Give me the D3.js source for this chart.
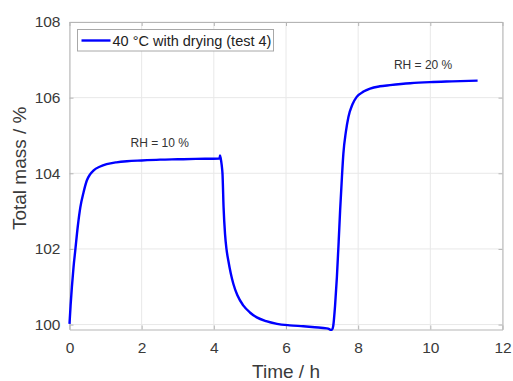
<!DOCTYPE html>
<html>
<head>
<meta charset="utf-8">
<script src="https://cdn.jsdelivr.net/npm/d3@7"></script>
<style>
  body { margin: 0; background: #fff; }
  svg { font-family: "Liberation Sans", Arial, sans-serif; }
</style>
</head>
<body>
<div id="chart"></div>
<script>
// Data (time in h, mass in %)
var timeH = [0, 0.03, 0.066, 0.11, 0.16, 0.23, 0.30, 0.39, 0.48, 0.57, 0.67, 0.85, 1.03, 1.3, 1.59, 2.0, 2.51, 3.0, 3.5, 4.16,
             4.17, 4.19, 4.22, 4.24, 4.27, 4.31, 4.35, 4.40, 4.47, 4.54, 4.65, 4.82, 5.0, 5.19, 5.45, 5.75, 6.1, 6.48, 6.8, 7.13,
             7.2, 7.24, 7.28, 7.31, 7.36, 7.41, 7.46, 7.50, 7.55, 7.59, 7.66, 7.73, 7.84, 7.96, 8.15, 8.33, 8.6, 8.88,
             9.44, 9.99, 10.6, 11.31];
var massPct = [100.02, 100.5, 100.99, 101.5, 101.96, 102.6, 103.1, 103.5, 103.81, 103.97, 104.08, 104.18, 104.24, 104.29, 104.32, 104.34, 104.36, 104.37, 104.38, 104.39,
               104.47, 104.4, 104.2, 103.99, 103.1, 102.4, 102.0, 101.7, 101.35, 101.08, 100.78, 100.5, 100.32, 100.19, 100.09, 100.02, 99.98, 99.955, 99.93, 99.9,
               99.88, 99.86, 99.87, 99.97, 100.5, 101.25, 102.2, 103.02, 103.9, 104.52, 105.1, 105.49, 105.82, 106.02, 106.16, 106.24, 106.3, 106.33,
               106.38, 106.41, 106.43, 106.45];

var xTicks = [0, 2, 4, 6, 8, 10, 12];
var yTicks = [100, 102, 104, 106, 108];

var annotations = [
  {label: "RH = 10 %", t: 2.5, m: 104.7},
  {label: "RH = 20 %", t: 9.8, m: 106.75}
];
var seriesName = "40 °C with drying (test 4)";

// Chart dimensions
var margin = {top: 22, right: 10.5, bottom: 51.5, left: 69.5},
    width = 513 - margin.left - margin.right,
    height = 381 - margin.top - margin.bottom;

var x = d3.scaleLinear().domain([0, 12]).range([0, width]);
var y = d3.scaleLinear().domain([99.87, 108]).range([height, 0]);

var svg = d3.select("#chart")
  .append("svg")
  .attr("width", width + margin.left + margin.right)
  .attr("height", height + margin.top + margin.bottom)
  .append("g")
  .attr("transform", "translate(" + margin.left + "," + margin.top + ")");

// Grid lines
svg.append("g").selectAll("line")
  .data(xTicks)
  .enter().append("line")
  .attr("x1", function(d) { return x(d); })
  .attr("x2", function(d) { return x(d); })
  .attr("y1", 0).attr("y2", height)
  .attr("stroke", "#e8e8e8");

svg.append("g").selectAll("line")
  .data(yTicks)
  .enter().append("line")
  .attr("x1", 0).attr("x2", width)
  .attr("y1", function(d) { return y(d); })
  .attr("y2", function(d) { return y(d); })
  .attr("stroke", "#e8e8e8");

// Axes with inward ticks
function styleAxis(g) {
  g.select(".domain").attr("stroke", "#b5b5b5");
  g.selectAll(".tick line").attr("stroke", "#b5b5b5");
  g.selectAll(".tick text").attr("fill", "#3a3a3a").style("font-size", "15.5px");
}

svg.append("g")
  .attr("transform", "translate(0," + height + ")")
  .call(d3.axisBottom(x).tickValues(xTicks).tickSizeInner(-4).tickSizeOuter(0).tickPadding(12))
  .call(styleAxis);

svg.append("g")
  .call(d3.axisTop(x).tickValues(xTicks).tickSizeInner(-4).tickSizeOuter(0).tickFormat(""))
  .call(styleAxis);

svg.append("g")
  .call(d3.axisLeft(y).tickValues(yTicks).tickSizeInner(-4).tickSizeOuter(0).tickPadding(9))
  .call(styleAxis);

svg.append("g")
  .attr("transform", "translate(" + width + ",0)")
  .call(d3.axisRight(y).tickValues(yTicks).tickSizeInner(-4).tickSizeOuter(0).tickFormat(""))
  .call(styleAxis);

// Data line
var line = d3.line()
  .x(function(d, i) { return x(timeH[i]); })
  .y(function(d) { return y(d); })
  .curve(d3.curveMonotoneX);

svg.append("path")
  .datum(massPct)
  .attr("fill", "none")
  .attr("stroke", "#0000ff")
  .attr("stroke-width", 2.4)
  .attr("stroke-linejoin", "round")
  .attr("d", line);

// Annotations
svg.selectAll(".note")
  .data(annotations)
  .enter().append("text")
  .attr("class", "note")
  .attr("x", function(d) { return x(d.t); })
  .attr("y", function(d) { return y(d.m); })
  .attr("text-anchor", "middle")
  .attr("fill", "#333")
  .style("font-size", "12px")
  .text(function(d) { return d.label; });

// Legend
var legend = svg.append("g").attr("transform", "translate(8,7.5)");
legend.append("rect")
  .attr("width", 196).attr("height", 21.5)
  .attr("fill", "#fff").attr("stroke", "#a8a8a8");
legend.append("line")
  .attr("x1", 4).attr("x2", 33).attr("y1", 11).attr("y2", 11)
  .attr("stroke", "#0000ff").attr("stroke-width", 2.4);
legend.append("text")
  .attr("x", 35).attr("y", 16.2)
  .attr("fill", "#222")
  .style("font-size", "14.5px")
  .text(seriesName);

// Axis labels
svg.append("text")
  .attr("x", x(6)).attr("y", height + 48.5)
  .attr("text-anchor", "middle")
  .attr("fill", "#3a3a3a")
  .style("font-size", "19px")
  .text("Time / h");

svg.append("text")
  .attr("transform", "rotate(-90)")
  .attr("x", -(y(104) - 5)).attr("y", -44)
  .attr("text-anchor", "middle")
  .attr("fill", "#3a3a3a")
  .style("font-size", "19px")
  .text("Total mass / %");
</script>
</body>
</html>
